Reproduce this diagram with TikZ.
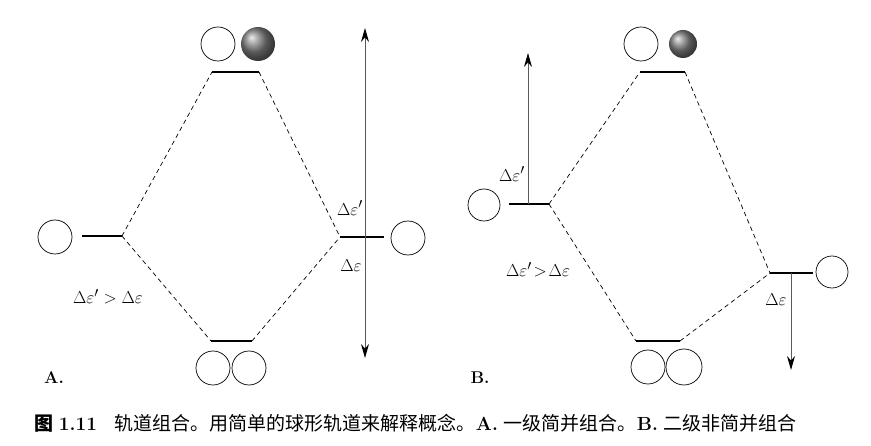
\documentclass[tikz,border=0pt]{standalone}
\usepackage{fontspec}
\newfontfamily\cjk{Noto Sans CJK SC}
\usetikzlibrary{arrows.meta}
\begin{document}
\begin{tikzpicture}[x=1pt,y=-1pt,
  orb/.style={circle,draw,line width=0.7pt,minimum size=34pt,inner sep=0pt},
  orbs/.style={circle,draw,line width=0.7pt,minimum size=32pt,inner sep=0pt},
  lvl/.style={line width=1.8pt},
  dsh/.style={dashed,dash pattern=on 4.5pt off 3.5pt,line width=0.7pt},
  arr/.style={line width=1pt,draw=black!65,-{Stealth[length=14pt,width=8pt,color=black]}},
  darr/.style={line width=1pt,draw=black!65,{Stealth[length=14pt,width=8pt,color=black]}-{Stealth[length=14pt,width=8pt,color=black]}},
  lab/.style={font=\fontsize{19}{22}\selectfont},
  pl/.style={font=\bfseries\fontsize{17}{20}\selectfont}]
\useasboundingbox (0,0) rectangle (871,446);
% ---------- Panel A ----------
\node[orb] (atl) at (218,44) {};
\shade[ball color=black!50] (258,44) circle (17);
\node[circle,minimum size=34pt,inner sep=0pt] (atr) at (258,44) {};
\coordinate (atA) at (212,72); \coordinate (atB) at (259,72);
\draw[lvl] (atA) -- (atB);
\node[orb] (al) at (55,237) {};
\coordinate (alA) at (82,236); \coordinate (alB) at (122,236);
\draw[lvl] (alA) -- (alB);
\node[orb] (ar) at (408,238) {};
\coordinate (arA) at (340,237); \coordinate (arB) at (384,237);
\draw[lvl] (arA) -- (arB);
\coordinate (abA) at (211,341); \coordinate (abB) at (252,341);
\draw[lvl] (abA) -- (abB);
\node[orb] (abl) at (213,368) {};
\node[orb] (abr) at (249,368) {};
\draw[dsh] (alB) -- (atA);
\draw[dsh] (atB) -- (arA);
\draw[dsh] (alB) -- (abA);
\draw[dsh] (abB) -- (arA);
\coordinate (aup) at (365,28); \coordinate (adn) at (365,358);
\draw[darr] (adn) -- (aup);
\node[lab] (ade1) at (350,208) {$\Delta\varepsilon'$};
\node[lab] (ade) at (351,266) {$\Delta\varepsilon$};
\node[lab] (acmp) at (108,297) {$\Delta\varepsilon'>\Delta\varepsilon$};
\node[pl] (aA) at (54,378) {A.};
% ---------- Panel B ----------
\node[orb] (btl) at (641,44) {};
\shade[ball color=black!50] (683,44) circle (14);
\node[circle,minimum size=28pt,inner sep=0pt] (btr) at (683,44) {};
\coordinate (btA) at (640,72); \coordinate (btB) at (685,72);
\draw[lvl] (btA) -- (btB);
\node[orbs] (bl) at (484,205) {};
\coordinate (blA) at (509,204); \coordinate (blB) at (549,204);
\draw[lvl] (blA) -- (blB);
\node[orbs] (br) at (832,272) {};
\coordinate (brA) at (770,273); \coordinate (brB) at (813,273);
\draw[lvl] (brA) -- (brB);
\coordinate (bbA) at (636,341); \coordinate (bbB) at (680,341);
\draw[lvl] (bbA) -- (bbB);
\node[orb] (bbl) at (648,367) {};
\node[circle,draw,line width=0.7pt,minimum size=36pt,inner sep=0pt] (bbr) at (684,367) {};
\draw[dsh] (blB) -- (btA);
\draw[dsh] (btB) -- (brA);
\draw[dsh] (blB) -- (bbA);
\draw[dsh] (bbB) -- (brA);
\coordinate (bu0) at (528,204); \coordinate (bu1) at (528,53);
\draw[arr] (bu0) -- (bu1);
\coordinate (bd0) at (791,273); \coordinate (bd1) at (791,370);
\draw[arr] (bd0) -- (bd1);
\node[lab] (bde1) at (512,174) {$\Delta\varepsilon'$};
\node[lab] (bde) at (776,300) {$\Delta\varepsilon$};
\node[lab] (bcmp) at (538,270) {$\Delta\varepsilon'\!>\!\Delta\varepsilon$};
\node[pl] (bB) at (480,378) {B.};
% ---------- caption ----------
\node[anchor=west,inner sep=0pt,font=\fontsize{19}{22}\selectfont] (cap) at (34,423)
 {{\cjk\bfseries 图} \textbf{1.11}\hspace{18pt}{\cjk 轨道组合。用简单的球形轨道来解释概念。}\textbf{A.} {\cjk 一级简并组合。}\textbf{B.} {\cjk 二级非简并组合}};
\end{tikzpicture}
\end{document}
